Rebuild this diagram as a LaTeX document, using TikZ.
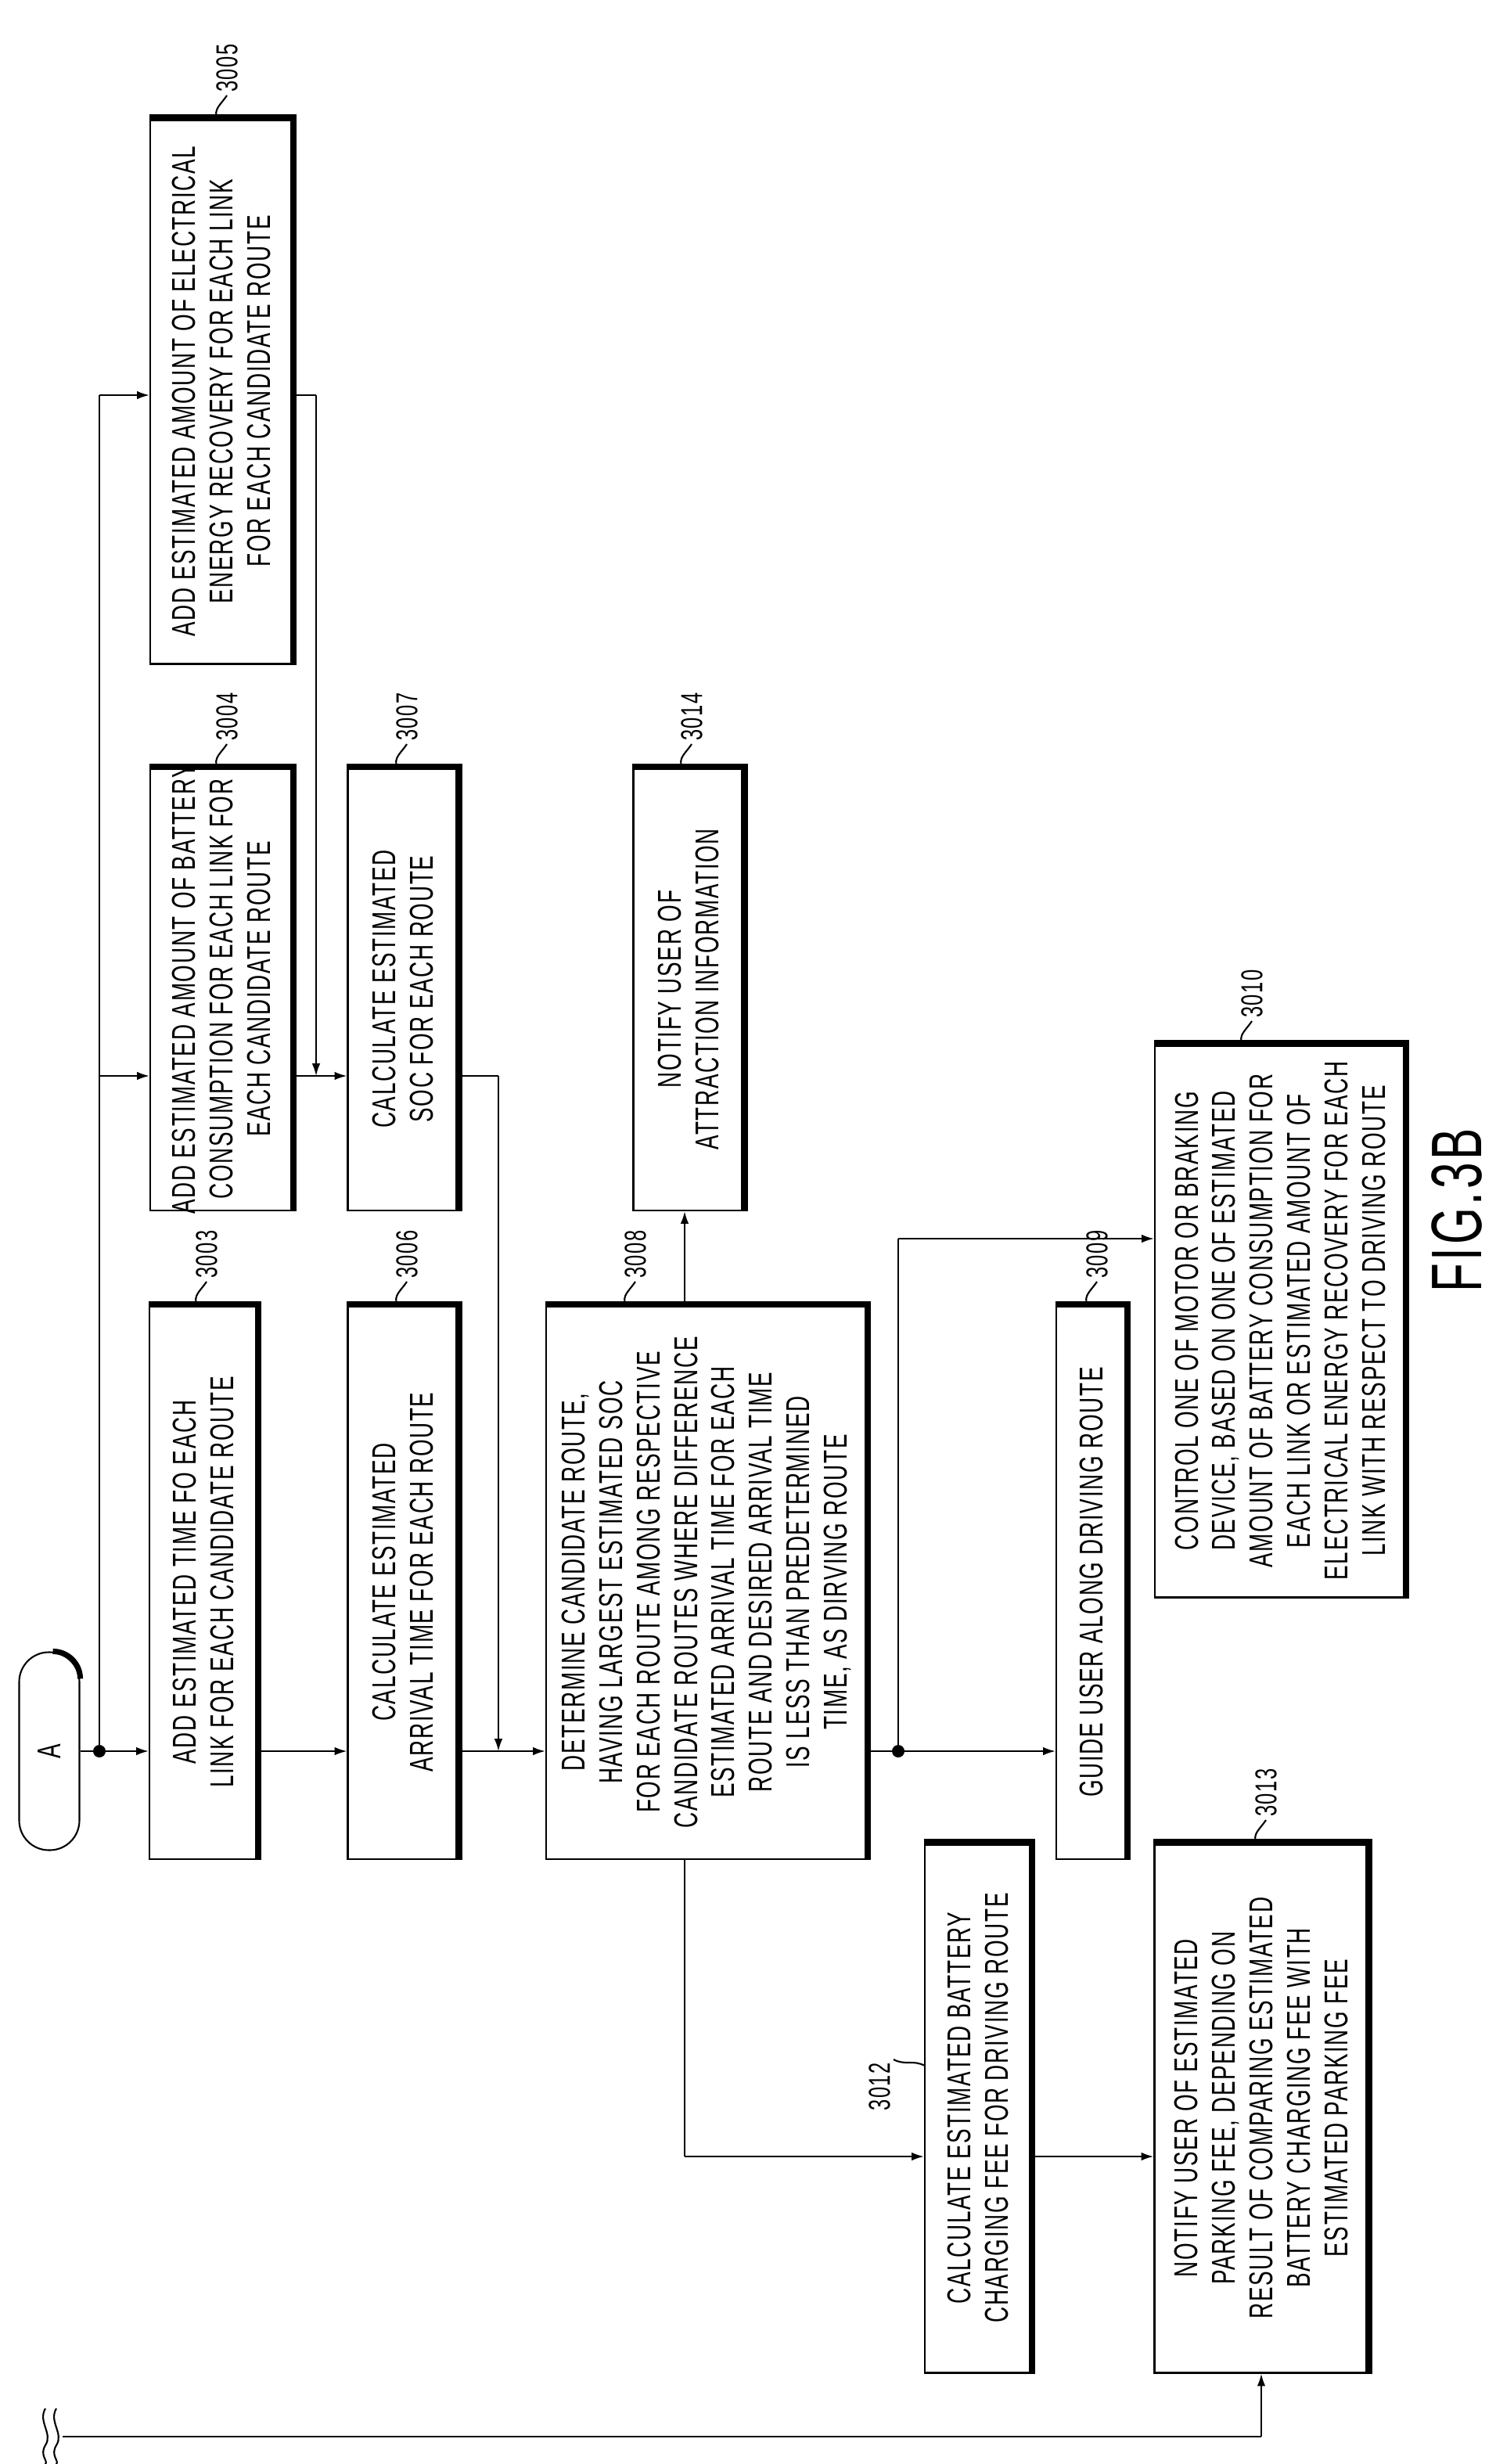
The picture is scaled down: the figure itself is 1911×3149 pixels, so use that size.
\documentclass[tikz,border=0pt]{standalone}
\usepackage{fontspec}
\setmainfont{Liberation Sans}[FakeStretch=0.66,LetterSpace=4]
\usetikzlibrary{arrows.meta}
\begin{document}
\begin{tikzpicture}[x=0.1mm,y=-0.1mm,
  bx/.style={draw,line width=0.6pt,inner sep=0},
  tx/.style={rotate=90,align=center,font=\fontsize{12}{13.6}\selectfont},
  lb/.style={rotate=90,anchor=west,font=\fontsize{11}{13}\selectfont,inner sep=1pt},
  ln/.style={line width=0.6pt},
  ar/.style={line width=0.6pt,-{Latex[length=4.5pt,width=3pt]}}]
\useasboundingbox (0,0) rectangle (1911,3149);
\newcommand{\bxx}[6]{% name, cx, cy, w, h, text
  \node[bx,minimum width=#4*0.1mm,minimum height=#5*0.1mm] (#1) at (#2,#3) {};
  \draw[line width=2.4pt] (#1.north west)--(#1.north east)--(#1.south east);
  \node[tx] at (#2,#3) {#6};}
\newcommand{\lbl}[4]{% x, ytop, text, name
  \coordinate (#4) at (#1,#2);
  \draw[ln] (#4) .. controls +(-6,-12) and +(-8,12) .. ++(12,-30) coordinate (#4t);
  \node[lb] at (#4t) {#3};}
\bxx{b3005}{283}{500}{182}{697}{ADD ESTIMATED AMOUNT OF ELECTRICAL\\ENERGY RECOVERY FOR EACH LINK\\FOR EACH CANDIDATE ROUTE}
\bxx{b3004}{283}{1264}{182}{566}{ADD ESTIMATED AMOUNT OF BATTERY\\CONSUMPTION FOR EACH LINK FOR\\EACH CANDIDATE ROUTE}
\bxx{b3007}{515}{1264}{141}{566}{CALCULATE ESTIMATED\\SOC FOR EACH ROUTE}
\bxx{b3014}{880}{1264}{141}{566}{NOTIFY USER OF\\ATTRACTION INFORMATION}
\bxx{b3003}{260}{2022}{138}{708}{ADD ESTIMATED TIME FO EACH\\LINK FOR EACH CANDIDATE ROUTE}
\bxx{b3006}{515}{2022}{141}{708}{CALCULATE ESTIMATED\\ARRIVAL TIME FOR EACH ROUTE}
\bxx{b3008}{903}{2022}{410}{708}{DETERMINE CANDIDATE ROUTE,\\HAVING LARGEST ESTIMATED SOC\\FOR EACH ROUTE AMONG RESPECTIVE\\CANDIDATE ROUTES WHERE DIFFERENCE\\ESTIMATED ARRIVAL TIME FOR EACH\\ROUTE AND DESIRED ARRIVAL TIME\\IS LESS THAN PREDETERMINED\\TIME, AS DIRVING ROUTE}
\bxx{b3009}{1395}{2022}{90}{708}{GUIDE USER ALONG DRIVING ROUTE}
\bxx{b3010}{1636}{1688}{320}{707}{CONTROL ONE OF MOTOR OR BRAKING\\DEVICE, BASED ON ONE OF ESTIMATED\\AMOUNT OF BATTERY CONSUMPTION FOR\\EACH LINK OR ESTIMATED AMOUNT OF\\ELECTRICAL ENERGY RECOVERY FOR EACH\\LINK WITH RESPECT TO DRIVING ROUTE}
\bxx{b3012}{1250}{2694}{136}{677}{CALCULATE ESTIMATED BATTERY\\CHARGING FEE FOR DRIVING ROUTE}
\bxx{b3013}{1612}{2694}{273}{677}{NOTIFY USER OF ESTIMATED\\PARKING FEE, DEPENDING ON\\RESULT OF COMPARING ESTIMATED\\BATTERY CHARGING FEE WITH\\ESTIMATED PARKING FEE}
% terminal A
\node[draw,line width=0.6pt,rounded corners=38*0.1mm,minimum width=77*0.1mm,minimum height=253*0.1mm,inner sep=0] (A) at (63,2238) {};
\draw[line width=2pt] ([xshift=-3.5mm]A.north east) arc[start angle=90,end angle=0,radius=3.5mm];
\node[tx] at (A) {A};
% labels
\lbl{278}{152}{3005}{l3005}
\lbl{278}{981}{3004}{l3004}
\lbl{508}{981}{3007}{l3007}
\lbl{872}{981}{3014}{l3014}
\lbl{1588}{1335}{3010}{l3010}
\lbl{252}{1668}{3003}{l3003}
\lbl{508}{1668}{3006}{l3006}
\lbl{800}{1668}{3008}{l3008}
\lbl{1390}{1668}{3009}{l3009}
\lbl{1606}{2356}{3013}{l3013}
\coordinate (l3012) at (1182,2640);
\draw[ln] (l3012) .. controls +(-15,-8) and +(15,8) .. ++(-40,-8) coordinate (l3012t);
\node[rotate=90,anchor=south east,font=\fontsize{11}{13}\selectfont,inner sep=1pt] at (l3012t) {3012};
% connectors
\coordinate (dotA) at (127,2238);
\coordinate (dotB) at (1148,2238);
\draw[ln] (A.east) -- (dotA);
\fill (dotA) circle[radius=8];
\fill (dotB) circle[radius=8];
\draw[ar] (dotA) -- (b3003.west |- dotA);
\draw[ln] (dotA) -- (127,505);
\draw[ar] (127,505) -- (b3005.west |- 127,505);
\draw[ar] (127,1375) -- (b3004.west |- 127,1375);
\draw[ar] (b3004.east |- 127,1375) -- (b3007.west |- 127,1375);
\draw[ln] (b3005.east |- 127,505) -- (404,505);
\draw[ar] (404,505) -- (404,1375);
\draw[ar] (b3003.east |- dotA) -- (b3006.west |- dotA);
\draw[ar] (b3006.east |- dotA) -- (b3008.west |- dotA);
\draw[ln] (b3007.east |- 127,1375) -- (637,1375);
\draw[ar] (637,1375) -- (637,2238);
\draw[ar] (b3008.north -| 875,0) -- (b3014.south -| 875,0);
\draw[ln] (b3008.east |- dotB) -- (dotB);
\draw[ar] (dotB) -- (b3009.west |- dotB);
\draw[ln] (dotB) -- (1148,1583);
\draw[ar] (1148,1583) -- (b3010.west |- 1148,1583);
\draw[ln] (b3008.south -| 875,0) -- (875,2756);
\draw[ar] (875,2756) -- (b3012.west |- 875,2756);
\draw[ar] (b3012.east |- 875,2756) -- (b3013.west |- 875,2756);
\draw[ln] (80,3114) -- (1612,3114);
\draw[ar] (1612,3114) -- (b3013.south -| 1612,0);
% break mark
\draw[ln] (58,3078) .. controls (48,3095) and (68,3110) .. (58,3125) .. controls (50,3138) and (62,3145) .. (58,3149);
\draw[ln] (72,3078) .. controls (62,3095) and (82,3110) .. (72,3125) .. controls (64,3138) and (76,3145) .. (72,3149);
\node[rotate=90,font=\fontsize{26}{26}\selectfont] (fig) at (1862,1547) {FIG.3B};
\end{tikzpicture}
\end{document}
